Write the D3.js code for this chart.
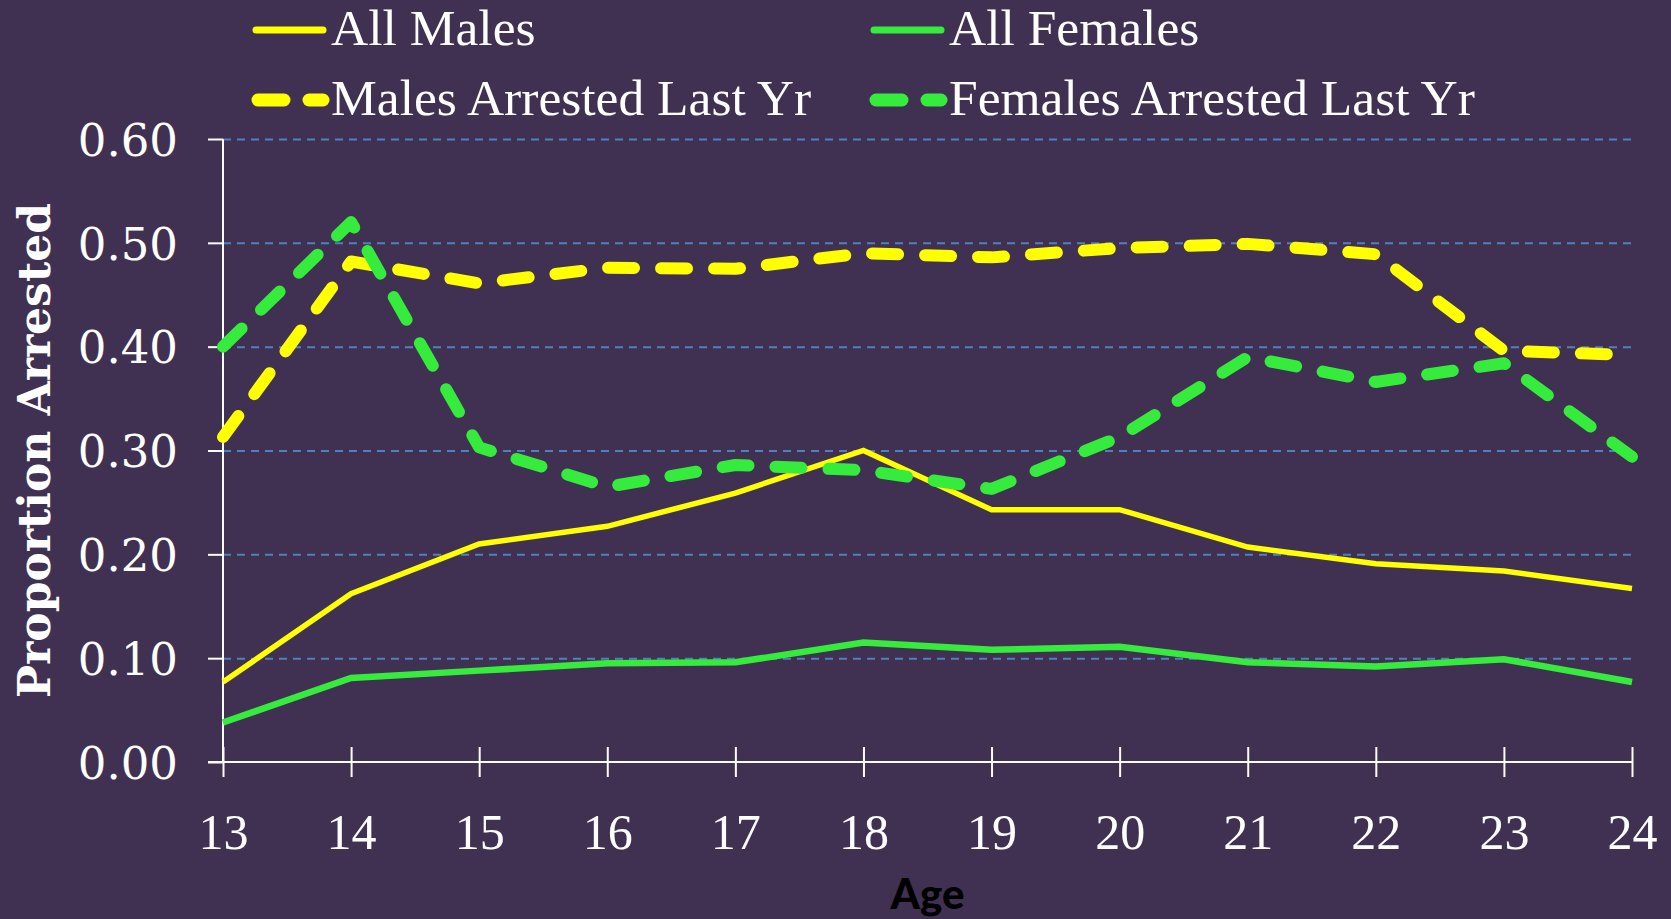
<!DOCTYPE html>
<html>
<head>
<meta charset="utf-8">
<script src="https://cdn.jsdelivr.net/npm/d3@7"></script>
<style>
  html, body { margin: 0; padding: 0; background: #403153; overflow: hidden; }
</style>
</head>
<body>
<div id="line-chart"></div>
<script>
// data
const ages = [13, 14, 15, 16, 17, 18, 19, 20, 21, 22, 23, 24];
const allMales = [0.077, 0.162, 0.210, 0.227, 0.259, 0.300, 0.243, 0.243, 0.207, 0.191, 0.184, 0.167];
const allFemales = [0.038, 0.081, 0.088, 0.095, 0.096, 0.115, 0.108, 0.111, 0.096, 0.092, 0.099, 0.077];
const malesArrested = [0.313, 0.482, 0.461, 0.476, 0.475, 0.490, 0.486, 0.495, 0.499, 0.489, 0.396, 0.392];
const femalesArrested = [0.400, 0.520, 0.303, 0.265, 0.286, 0.281, 0.263, 0.313, 0.390, 0.366, 0.384, 0.294];
const yTicks = [0, 0.1, 0.2, 0.3, 0.4, 0.5, 0.6];

const W = 1671, H = 919;
const margin = { top: 139, right: 39, bottom: 157, left: 223 };
const width = W - margin.left - margin.right;
const height = H - margin.top - margin.bottom;

const svg = d3.select('#line-chart')
    .append('svg')
    .attr('width', W)
    .attr('height', H);

svg.append('rect').attr('width', W).attr('height', H).attr('fill', '#403153');

const g = svg.append('g')
    .attr('transform', 'translate(' + margin.left + ',' + margin.top + ')');

const x = d3.scaleLinear().domain([13, 24]).range([0, width]);
const y = d3.scaleLinear().domain([0, 0.6]).range([height, 0]);

// gridlines
g.append('g')
    .call(d3.axisLeft(y).tickValues(yTicks.slice(1)).tickSize(-width).tickFormat(''))
    .call(s => s.select('.domain').remove())
    .selectAll('line')
    .attr('stroke', '#4f81bd')
    .attr('stroke-width', 2)
    .attr('stroke-dasharray', '8,6');

// y-axis
const yAxis = g.append('g')
    .call(d3.axisLeft(y).tickValues(yTicks).tickSize(15).tickPadding(30).tickFormat(d3.format('.2f')));
yAxis.select('.domain').remove();
yAxis.selectAll('line').attr('stroke', '#fff').attr('stroke-width', 2);
yAxis.selectAll('text')
    .attr('fill', '#fff')
    .attr('dy', '0.36em')
    .style('font-family', '"DejaVu Serif", serif')
    .style('font-size', '45px');

// x-axis, ticks cross the line
const xAxis = g.append('g')
    .attr('transform', 'translate(0,' + height + ')')
    .call(d3.axisBottom(x).tickValues(ages).tickSize(15).tickPadding(36).tickFormat(d3.format('d')));
xAxis.select('.domain').remove();
xAxis.selectAll('line').attr('y1', -15).attr('stroke', '#fff').attr('stroke-width', 2);
xAxis.selectAll('text')
    .attr('fill', '#fff')
    .attr('dy', '0.71em')
    .style('font-family', '"Liberation Serif", serif')
    .style('font-size', '50px');

// axis lines
g.append('line')
    .attr('x1', x(13) - 15).attr('x2', x(24))
    .attr('y1', y(0)).attr('y2', y(0))
    .attr('stroke', '#fff').attr('stroke-width', 2);
g.append('line')
    .attr('x1', x(13)).attr('x2', x(13))
    .attr('y1', y(0)).attr('y2', y(0.6))
    .attr('stroke', '#fff').attr('stroke-width', 2);

const series = [
    { name: 'All Males', values: allMales, color: '#ffff00', width: 5.5, dash: null },
    { name: 'All Females', values: allFemales, color: '#35ec3c', width: 6.5, dash: null },
    { name: 'Males Arrested Last Yr', values: malesArrested, color: '#ffff00', width: 12, dash: '26,27' },
    { name: 'Females Arrested Last Yr', values: femalesArrested, color: '#35ec3c', width: 12, dash: '26,27' }
];

const line = d3.line()
    .x(d => x(d[0]))
    .y(d => y(d[1]));

series.forEach(s => {
    g.append('path')
        .datum(ages.map((a, i) => [a, s.values[i]]))
        .attr('fill', 'none')
        .attr('stroke', s.color)
        .attr('stroke-width', s.width)
        .attr('stroke-linecap', s.dash ? 'round' : 'butt')
        .attr('stroke-linejoin', s.dash ? 'round' : 'miter')
        .attr('stroke-dasharray', s.dash)
        .attr('d', line);
});

// legend
const legendPos = [[253, 30], [871, 30], [253, 100], [871, 100]];
series.forEach((s, i) => {
    const [lx, ly] = legendPos[i];
    const lg = svg.append('g').attr('transform', 'translate(' + lx + ',' + ly + ')');
    if (s.dash) {
        lg.append('line').attr('x1', 5).attr('x2', 31).attr('y1', 0).attr('y2', 0)
            .attr('stroke', s.color).attr('stroke-width', 13).attr('stroke-linecap', 'round');
        lg.append('line').attr('x1', 56).attr('x2', 70).attr('y1', 0).attr('y2', 0)
            .attr('stroke', s.color).attr('stroke-width', 13).attr('stroke-linecap', 'round');
    } else {
        lg.append('line').attr('x1', 3).attr('x2', 70).attr('y1', 0).attr('y2', 0)
            .attr('stroke', s.color).attr('stroke-width', 7).attr('stroke-linecap', 'round');
    }
    lg.append('text')
        .attr('x', 78)
        .attr('y', 15)
        .attr('fill', '#fff')
        .style('font-family', '"Liberation Serif", serif')
        .style('font-size', '51.5px')
        .text(s.name);
});

// axis titles
svg.append('text')
    .attr('transform', 'translate(50,' + (margin.top + height / 2) + ') rotate(-90)')
    .attr('text-anchor', 'middle')
    .attr('fill', '#fff')
    .style('font-family', '"DejaVu Serif", serif')
    .style('font-weight', 'bold')
    .style('font-size', '44px')
    .text('Proportion Arrested');

svg.append('text')
    .attr('x', margin.left + width / 2)
    .attr('y', 909)
    .attr('text-anchor', 'middle')
    .attr('fill', '#000')
    .style('font-family', 'Lato, sans-serif')
    .style('font-weight', '900')
    .style('font-size', '42px')
    .text('Age');
</script>
</body>
</html>
